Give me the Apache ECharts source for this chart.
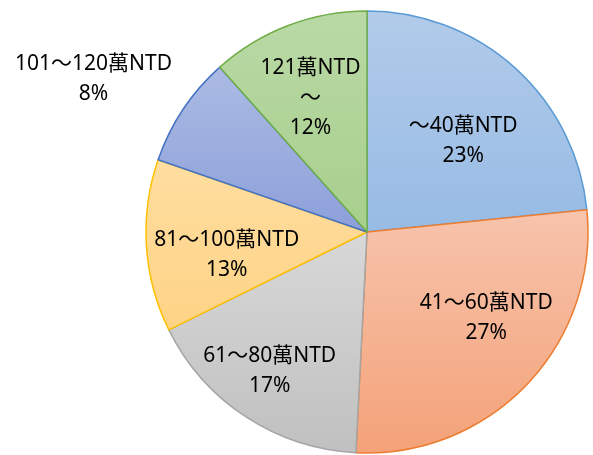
<!DOCTYPE html>
<html>
<head>
<meta charset="utf-8">
<script src="https://cdn.jsdelivr.net/npm/echarts@6/dist/echarts.min.js"></script>
<style>
html,body{margin:0;padding:0;background:#fff;}
#chart{width:593px;height:455px;}
</style>
</head>
<body>
<div id="chart"></div>
<script>
var categories = ['～40萬NTD', '41～60萬NTD', '61～80萬NTD', '81～100萬NTD', '101～120萬NTD', '121萬NTD\n～'];
var values = [23.4, 27.4, 16.9, 12.6, 8.1, 11.6];

var topColors = ['#b2cbea', '#f7c4ad', '#d8d8d8', '#ffdea0', '#acbbe4', '#bad9a6'];
var bottomColors = ['#97bbe4', '#f4a278', '#c0c0c0', '#fed386', '#8c9fd9', '#a7cf8c'];
var borderColors = ['#5b9bd5', '#ed7d31', '#a5a5a5', '#ffc000', '#4472c4', '#70ad47'];
var labelOffsets = [[20, -7], [37, 8], [-35, 44], [-27, 16], [-179, -90], [-16, -28]];

var chart = echarts.init(document.getElementById('chart'), null, {renderer: 'canvas'});
var data = categories.map(function (c, i) {
  return {
    name: c,
    value: values[i],
    itemStyle: {
      color: new echarts.graphic.LinearGradient(0, 0, 0, 1, [
        {offset: 0, color: topColors[i]},
        {offset: 1, color: bottomColors[i]}
      ]),
      borderColor: borderColors[i],
      borderWidth: 1.5
    },
    label: {offset: labelOffsets[i]}
  };
});
chart.setOption({
  animation: false,
  series: [{
    type: 'pie',
    center: [367, 232],
    radius: [0, 221],
    startAngle: 90,
    clockwise: true,
    percentPrecision: 0,
    data: data,
    label: {
      position: 'inside',
      formatter: '{b}\n{d}%',
      color: '#000',
      fontSize: 21,
      lineHeight: 30,
      fontFamily: 'Noto Sans, Noto Sans CJK TC, sans-serif',
      align: 'center'
    },
    labelLine: {show: false},
    emphasis: {disabled: true}
  }]
});
</script>
</body>
</html>
